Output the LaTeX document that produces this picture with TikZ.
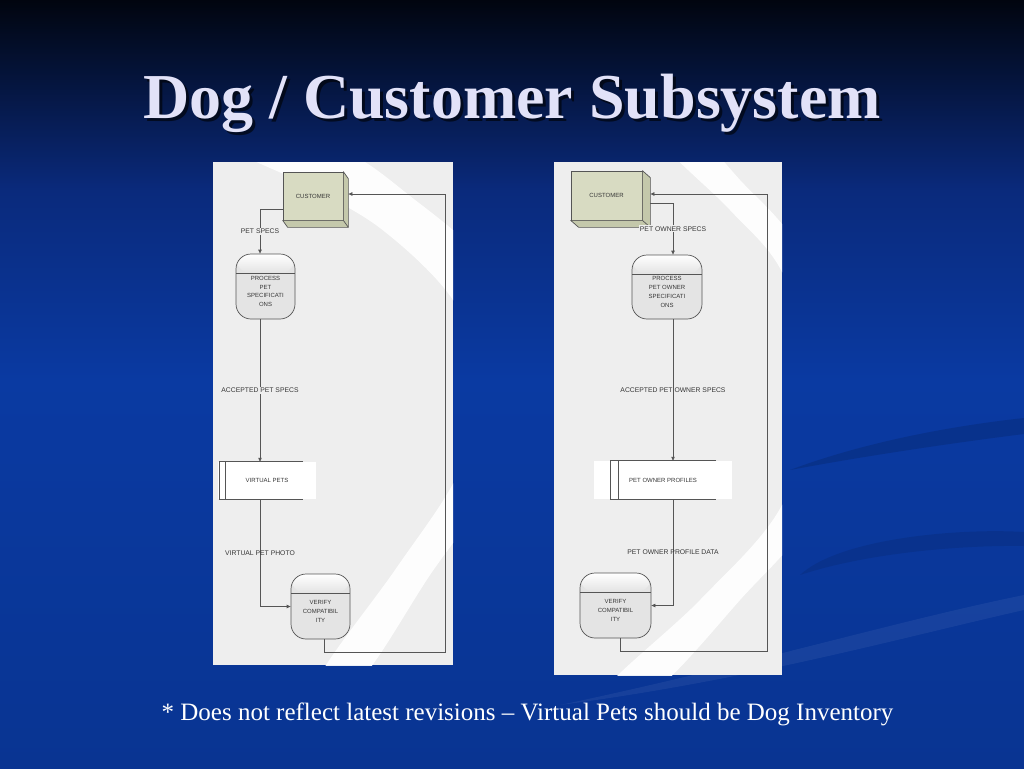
\documentclass[tikz,border=0pt]{standalone}
\usepackage{fontspec}
\setmainfont{Liberation Serif}
\newfontfamily\dfdfont{Liberation Sans}
\usepackage{tikz}
\usetikzlibrary{positioning, arrows.meta, calc}
\definecolor{slidetop}{HTML}{01050F}
\definecolor{slidemid}{HTML}{0A2A7C}
\definecolor{slideblue}{HTML}{0A3AA2}
\definecolor{titlelav}{HTML}{E2E2F8}
\definecolor{panelgrey}{HTML}{EEEEEE}
\definecolor{linegrey}{HTML}{555555}
\definecolor{labelgrey}{HTML}{363636}
\definecolor{entityfill}{HTML}{D8DBC2}
\definecolor{entityside}{HTML}{C4C8AB}
\definecolor{procfill}{HTML}{E4E4E4}

\tikzset{
  nodetext/.style={font=\dfdfont\fontsize{6}{8.7}\selectfont, text=labelgrey},
  flowlabel/.style={font=\dfdfont\fontsize{6.8}{8}\selectfont, text=labelgrey, inner sep=1pt},
  entitybox/.style={nodetext, draw=linegrey, fill=entityfill, line width=0.7pt},
  entitydepth/.style={draw=linegrey, fill=entityside, line width=0.7pt, line join=round},
  procbox/.style={nodetext, draw=linegrey, fill=procfill, line width=0.7pt,
    rounded corners=15pt, align=center, inner sep=0pt,
    path picture={
      \shade[top color=white, bottom color=black!38]
        (path picture bounding box.north west) rectangle
        ([yshift=-19pt]path picture bounding box.north east);
      \draw[linegrey, line width=0.7pt]
        ([yshift=-19pt]path picture bounding box.north west) --
        ([yshift=-19pt]path picture bounding box.north east);}},
  storebox/.style={nodetext, fill=white, inner sep=0pt},
  storeline/.style={draw=linegrey, line width=0.7pt},
  flow/.style={draw=linegrey, line width=0.7pt, -{Triangle[length=4pt, width=3.4pt]}},
  swoosh/.style={fill=white, opacity=0.92},
  titletext/.style={font=\bfseries\fontsize{64}{70}\selectfont, text=titlelav, anchor=base, inner sep=0pt},
  notetext/.style={font=\fontsize{25}{29}\selectfont, text=white, anchor=base, inner sep=0pt}
}

% pushes the process text below the header band
\newcommand{\hdrgap}{\rule{0pt}{14pt}}

\newcommand{\boxdepth}[3]{%
  \draw[entitydepth] (#1.north east) -- ++(#2,#3) -- ($(#1.south east)+(#2,#3)$)
    -- ($(#1.south west)+(#2,#3)$) -- (#1.south west) -- (#1.south east) -- cycle;
  \draw[entitydepth] (#1.south east) -- ++(#2,#3);}

\begin{document}
\begin{tikzpicture}[x=1pt, y=-1pt]
  \useasboundingbox (0,0) rectangle (1024,768);
  % slide background
  \shade[top color=slidetop, bottom color=slideblue, middle color=slidemid] (0,0) rectangle (1024,380);
  \shade[top color=slideblue, bottom color=slideblue!90!black] (0,380) rectangle (1024,768);
  \fill[black, opacity=0.12] (790,470) .. controls (870,440) and (960,425) .. (1024,418)
    -- (1024,434) .. controls (960,442) and (870,455) .. (790,470) -- cycle;
  \fill[black, opacity=0.09] (800,575) .. controls (840,538) and (960,528) .. (1024,532)
    -- (1024,546) .. controls (950,545) and (860,555) .. (800,575) -- cycle;
  \fill[white, opacity=0.06] (560,705) .. controls (750,665) and (900,620) .. (1024,595)
    -- (1024,610) .. controls (900,638) and (750,680) .. (560,705) -- cycle;

  \node[titletext, text=black, opacity=0.6] (titleshadow) at (515,121) {Dog / Customer Subsystem};
  \node[titletext] (title) at (512,118) {Dog / Customer Subsystem};

  % left panel
  \begin{scope}
    \clip (213,162) rectangle (453,665);
    \fill[panelgrey] (213,162) rectangle (453,665);
    \fill[swoosh] plot[smooth cycle, tension=0.55] coordinates {(235,148) (300,182) (380,228)
      (453,300) (488,390) (455,480) (395,570) (318,680) (360,680) (430,575) (495,480)
      (525,380) (490,270) (410,196) (335,148)};
  \end{scope}

  \node[entitybox, minimum width=60pt, minimum height=48pt] (cust1) at (313,196) {CUSTOMER};
  \boxdepth{cust1}{5}{7}
  \node[procbox, minimum width=59pt, minimum height=65pt] (proc1) at (265.5,286.5) {\hdrgap PROCESS\\PET\\SPECIFICATI\\ONS};
  \node[storebox, minimum width=98pt, minimum height=37pt] (vpets) at (267,480.5) {VIRTUAL PETS};
  \draw[storeline] ([xshift=-13pt]vpets.north east) -- ([xshift=2pt]vpets.north west)
    -- ([xshift=2pt]vpets.south west) -- ([xshift=-13pt]vpets.south east);
  \draw[storeline] ([xshift=8pt]vpets.north west) -- ([xshift=8pt]vpets.south west);
  \node[procbox, minimum width=59pt, minimum height=65pt] (ver1) at (320.5,606.5) {\hdrgap VERIFY\\COMPATIBIL\\ITY};

  \coordinate (f1) at ($(proc1.south)+(-5.5,0)$);
  \coordinate (ret1) at (445,652);
  \draw[flow] ([yshift=-13pt]cust1.west) -| node[flowlabel, fill=panelgrey, pos=0.75] {PET SPECS} ($(proc1.north)+(-5.5,0)$);
  \draw[flow] (f1) -- node[flowlabel, fill=panelgrey] {ACCEPTED PET SPECS} (f1 |- vpets.north);
  \draw[flow] (vpets.south -| f1) |- node[flowlabel, pos=0.25] {VIRTUAL PET PHOTO} (ver1.west);
  \draw[flow] ([xshift=3.5pt]ver1.south) |- (ret1) |- ($(cust1.east)+(5,-2)$);

  % right panel
  \begin{scope}
    \clip (554,162) rectangle (782,675);
    \fill[panelgrey] (554,162) rectangle (782,675);
    \fill[swoosh] plot[smooth cycle, tension=0.55] coordinates {(665,145) (730,210) (782,272)
      (815,380) (782,505) (700,600) (605,690) (655,690) (740,600) (815,510) (850,380)
      (800,250) (740,180) (700,140)};
  \end{scope}

  \node[entitybox, minimum width=71pt, minimum height=49pt] (cust2) at (606.5,195.5) {CUSTOMER};
  \boxdepth{cust2}{8}{7}
  \node[procbox, minimum width=70pt, minimum height=64pt] (proc2) at (667,287) {\hdrgap PROCESS\\PET OWNER\\SPECIFICATI\\ONS};
  \node[storebox, minimum width=138pt, minimum height=38pt] (prof2) at (663,480) {PET OWNER PROFILES};
  \draw[storeline] ([xshift=-16pt]prof2.north east) -- ([xshift=17pt]prof2.north west)
    -- ([xshift=17pt]prof2.south west) -- ([xshift=-16pt]prof2.south east);
  \draw[storeline] ([xshift=25pt]prof2.north west) -- ([xshift=25pt]prof2.south west);
  \node[procbox, minimum width=71pt, minimum height=65pt] (ver2) at (615.5,605.5) {\hdrgap VERIFY\\COMPATIBIL\\ITY};

  \coordinate (f2) at ($(proc2.south)+(6,0)$);
  \coordinate (ret2) at (767,651);
  \draw[flow] ($(cust2.east)+(8,7.5)$) -| node[flowlabel, fill=panelgrey, pos=0.75] {PET OWNER SPECS} ($(proc2.north)+(6,0)$);
  \draw[flow] (f2) -- node[flowlabel] {ACCEPTED PET OWNER SPECS} (f2 |- prof2.north);
  \draw[flow] (prof2.south -| f2) |- node[flowlabel, pos=0.25] {PET OWNER PROFILE DATA} (ver2.east);
  \draw[flow] ([xshift=4.5pt]ver2.south) |- (ret2) |- ($(cust2.east)+(8,-1.5)$);

  \node[notetext] (note) at (527.5,720) {* Does not reflect latest revisions – Virtual Pets should be Dog Inventory};
\end{tikzpicture}
\end{document}
